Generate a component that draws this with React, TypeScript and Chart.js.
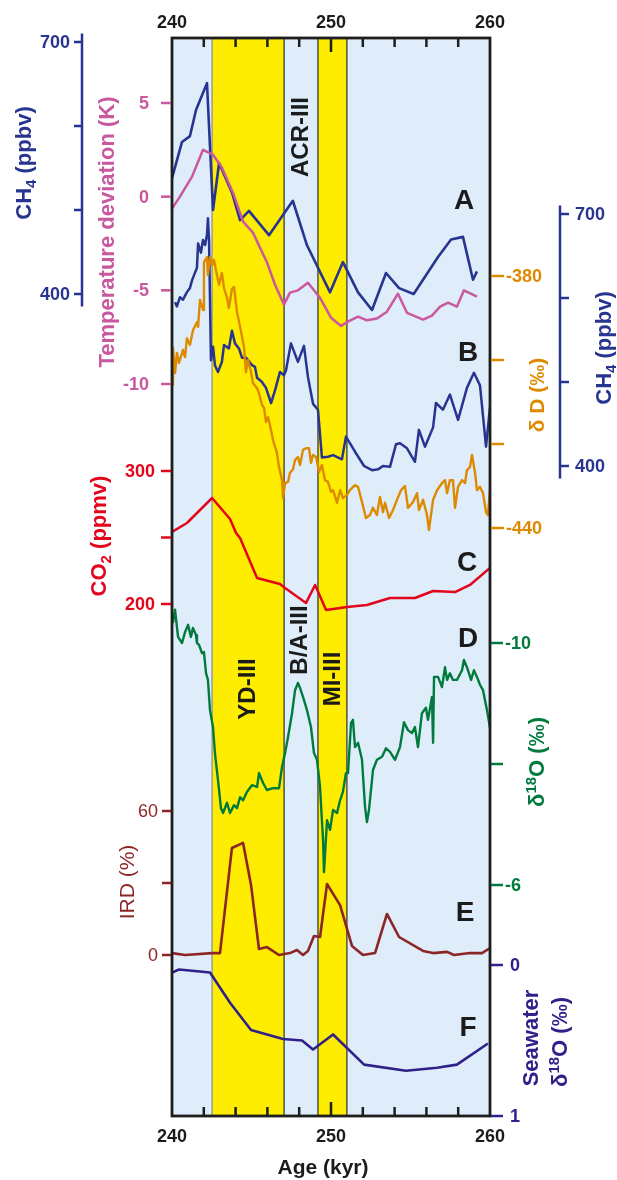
import React, { useEffect, useRef } from "react";
import { Chart, registerables } from "chart.js";

Chart.register(...registerables);

// ---------------- DATA ----------------
// A: CH4 (left axis, ppbv)
const ch4AAge = [240.0, 240.63, 241.13, 241.51, 242.2, 242.58, 242.96, 243.77, 244.28, 244.84, 246.1, 247.6, 248.49, 249.94, 250.75, 251.7, 252.58, 253.46, 254.28, 255.2, 256.73, 257.55, 258.3, 258.93, 259.18];
const ch4APpbv = [538, 581, 588, 619, 651, 500, 556, 521, 488, 499, 470, 511, 458, 402, 438, 402, 381, 425, 407, 400, 444, 465, 468, 417, 427];

// A: temperature deviation (K)
const tempAge = [240.0, 240.5, 241.26, 241.95, 242.58, 243.14, 243.84, 244.47, 245.09, 245.97, 246.48, 247.04, 247.42, 247.92, 248.55, 249.31, 250.0, 250.63, 251.07, 251.7, 252.26, 252.89, 253.52, 254.21, 254.78, 255.79, 256.35, 256.86, 257.36, 257.92, 258.36, 259.18];
const tempK = [-0.64, 0, 1.07, 2.5, 2.24, 1.55, 0.2, -1.33, -1.92, -3.5, -4.7, -5.76, -5.12, -5.0, -4.6, -5.4, -6.46, -6.9, -6.67, -6.4, -6.6, -6.5, -6.14, -5.18, -6.2, -6.56, -6.35, -5.87, -5.66, -5.87, -5.0, -5.34];

// B: CH4 (right axis, ppbv)
const ch4BAge = [240.19, 240.31, 240.5, 240.69, 240.94, 241.13, 241.26, 241.38, 241.57, 241.64, 241.82, 241.95, 242.08, 242.2, 242.26, 242.33, 242.45, 242.58, 242.7, 242.89, 243.14, 243.27, 243.58, 243.77, 243.96, 244.21, 244.4, 244.65, 244.78, 245.03, 245.22, 245.35, 245.66, 245.91, 246.23, 246.48, 246.79, 247.04, 247.17, 247.48, 247.92, 248.3, 248.55, 248.87, 249.18, 249.43, 249.81, 250.13, 250.69, 250.94, 251.51, 252.08, 252.58, 252.96, 253.27, 253.71, 254.09, 254.34, 254.78, 255.28, 255.53, 255.91, 256.42, 256.6, 257.04, 257.48, 257.99, 258.55, 258.99, 259.37, 259.75, 260.0];
const ch4BPpbv = [595, 590, 601, 598, 607, 612, 621, 627, 636, 665, 654, 669, 663, 675, 695, 669, 526, 542, 520, 512, 524, 544, 540, 561, 546, 540, 529, 529, 526, 520, 518, 505, 500, 493, 475, 490, 512, 508, 514, 546, 524, 543, 506, 474, 467, 410, 411, 413, 408, 435, 417, 400, 395, 396, 400, 399, 426, 427, 421, 405, 443, 423, 446, 475, 467, 485, 455, 493, 511, 496, 423, 470];

// B: deltaD (per mil)
const dDAge = [240.0, 240.06, 240.19, 240.31, 240.44, 240.69, 240.82, 240.94, 241.13, 241.32, 241.57, 241.64, 241.76, 241.95, 242.01, 242.2, 242.26, 242.39, 242.52, 242.64, 242.83, 242.96, 243.14, 243.27, 243.46, 243.58, 243.77, 243.9, 244.09, 244.28, 244.53, 244.65, 244.78, 244.97, 245.09, 245.35, 245.47, 245.66, 245.79, 245.91, 246.04, 246.23, 246.35, 246.6, 246.73, 246.92, 246.98, 247.11, 247.3, 247.42, 247.61, 247.74, 247.92, 248.05, 248.24, 248.43, 248.62, 248.74, 248.87, 249.06, 249.25, 249.43, 249.62, 249.81, 250.0, 250.13, 250.38, 250.57, 250.75, 251.01, 251.19, 251.51, 251.7, 251.95, 252.2, 252.45, 252.64, 252.89, 253.08, 253.27, 253.4, 253.65, 253.9, 254.15, 254.4, 254.65, 254.84, 255.16, 255.41, 255.53, 255.79, 256.04, 256.16, 256.42, 256.67, 256.98, 257.17, 257.3, 257.48, 257.67, 257.8, 257.99, 258.24, 258.43, 258.55, 258.74, 258.87, 259.06, 259.18, 259.37, 259.56, 259.75, 259.87, 260.0];
const dDPermil = [-405.9, -397.1, -403.1, -398.3, -400.7, -397.6, -399.3, -394.8, -396.4, -392.9, -391.0, -392.1, -385.7, -388.1, -376.7, -375.5, -379.8, -375.5, -377.4, -376.2, -379.8, -382.1, -379.3, -382.9, -385.2, -387.6, -383.1, -382.6, -388.6, -392.1, -396.9, -402.9, -400.0, -402.9, -405.5, -406.7, -407.9, -410.7, -411.4, -414.8, -413.6, -416.7, -419.0, -422.1, -425.5, -428.6, -432.9, -429.3, -429.0, -426.9, -426.0, -423.8, -423.1, -425.0, -421.4, -421.0, -421.0, -424.5, -422.6, -423.1, -426.7, -425.0, -428.6, -429.0, -431.4, -431.0, -434.0, -431.0, -432.9, -432.1, -431.0, -429.8, -430.2, -433.8, -437.6, -436.9, -435.2, -436.9, -432.6, -436.2, -434.0, -437.6, -435.7, -433.3, -431.0, -430.0, -435.2, -433.8, -431.7, -435.7, -433.3, -436.9, -440.5, -433.3, -431.0, -429.3, -428.6, -431.7, -428.6, -428.6, -435.2, -430.2, -428.6, -429.3, -426.2, -425.5, -422.6, -426.9, -431.0, -430.2, -431.7, -436.2, -436.9, -431.0];

// C: CO2 (ppmv)
const co2Age = [240.0, 240.94, 242.52, 243.65, 244.03, 244.28, 245.35, 246.79, 247.11, 248.43, 249.0, 249.69, 251.01, 252.26, 253.71, 255.28, 256.42, 257.8, 258.74, 260.0];
const co2Ppmv = [254.1, 260.9, 279.7, 263.9, 253.4, 249.6, 219.5, 215, 212, 200.8, 214.3, 195.5, 197.7, 199.2, 204.5, 204.5, 209.8, 209, 214.3, 227.1];

// D: speleothem d18O (per mil)
const d18OAge = [240.06, 240.19, 240.38, 240.63, 240.82, 241.01, 241.19, 241.32, 241.51, 241.57, 241.7, 241.89, 242.01, 242.14, 242.26, 242.39, 242.58, 242.7, 242.89, 243.08, 243.21, 243.46, 243.65, 243.9, 244.09, 244.28, 244.47, 244.72, 245.03, 245.35, 245.47, 245.72, 245.97, 246.35, 246.73, 246.92, 247.11, 247.3, 247.55, 247.74, 247.92, 248.05, 248.24, 248.49, 248.74, 248.93, 249.12, 249.31, 249.5, 249.56, 249.75, 249.94, 250.13, 250.38, 250.57, 250.75, 250.94, 251.07, 251.26, 251.38, 251.51, 251.7, 251.95, 252.14, 252.26, 252.39, 252.64, 252.89, 253.21, 253.46, 253.71, 254.03, 254.34, 254.59, 254.84, 255.09, 255.28, 255.47, 255.72, 255.97, 256.1, 256.35, 256.42, 256.48, 256.73, 256.98, 257.17, 257.3, 257.48, 257.67, 257.92, 258.24, 258.36, 258.55, 258.81, 258.99, 259.18, 259.37, 259.56, 259.81, 260.0];
const d18OPermil = [-10.33, -10.55, -10.1, -10.0, -10.18, -10.3, -10.1, -10.25, -10.13, -10.0, -9.97, -9.83, -9.85, -9.5, -9.39, -8.89, -8.61, -8.18, -7.74, -7.27, -7.19, -7.36, -7.19, -7.32, -7.27, -7.45, -7.4, -7.54, -7.65, -7.62, -7.85, -7.69, -7.57, -7.6, -7.6, -7.95, -8.18, -8.45, -8.84, -9.22, -9.34, -9.26, -9.11, -8.89, -8.61, -8.18, -8.07, -7.62, -6.74, -6.21, -7.07, -6.91, -7.24, -7.19, -7.4, -7.54, -7.85, -7.85, -8.68, -8.73, -8.28, -8.35, -8.07, -7.29, -7.04, -7.24, -7.9, -8.07, -8.12, -8.26, -8.2, -8.07, -8.28, -8.69, -8.56, -8.51, -8.61, -8.28, -8.84, -8.93, -8.73, -9.11, -8.35, -9.44, -9.44, -9.27, -9.6, -9.39, -9.5, -9.39, -9.39, -9.55, -9.72, -9.6, -9.39, -9.55, -9.44, -9.31, -9.22, -8.89, -8.6];

// E: IRD (%)
const irdAge = [240.0, 240.82, 242.52, 243.02, 243.77, 244.47, 244.97, 245.47, 245.97, 246.73, 247.42, 247.86, 248.24, 248.55, 248.93, 249.31, 249.75, 250.57, 251.32, 252.01, 252.77, 253.52, 254.28, 255.79, 256.42, 257.3, 257.74, 258.74, 259.5, 260.0];
const irdPct = [0.8, 0, 0.8, 0.8, 44.6, 46.7, 29.2, 2.5, 3.3, 0, 0.8, 2.1, 0, 1.7, 7.9, 7.5, 29.6, 20.8, 3.8, 0, 0.8, 17.1, 7.5, 1.7, 0.8, 1.3, 0, 0.8, 0.8, 2.9];

// F: seawater d18O (per mil)
const swAge = [240.0, 240.44, 242.39, 243.65, 244.97, 246.98, 248.18, 248.87, 250.13, 252.08, 254.72, 256.67, 257.92, 259.87];
const swPermil = [0.05, 0.03, 0.05, 0.25, 0.43, 0.49, 0.5, 0.56, 0.46, 0.66, 0.7, 0.68, 0.66, 0.52];

// Event bands and x ticks
const bandStart = [242.52, 249.18];
const bandEnd = [247.05, 251.0];
const xMajorTicks = [240, 250, 260];
const xMinorTicks = [242, 244, 246, 248, 252, 254, 256, 258];

// ---------------- STYLE ----------------
const FONT = '"Liberation Sans", Arial, Helvetica, sans-serif';
const C_BG = "#dfecfa";
const C_YEL = "#ffed00";
const C_CH4 = "#283590";
const C_TEMP = "#c9589f";
const C_DD = "#de8a00";
const C_CO2 = "#e3051b";
const C_D18O = "#007b3d";
const C_IRD = "#8c2626";
const C_SW = "#30208a";
const C_TXT = "#1b1b1b";

const PLOT_TOP = 38;
const PLOT_BOTTOM = 1116;

function axisRange(v1: number, p1: number, v2: number, p2: number) {
  const k = (v2 - v1) / (p2 - p1);
  const vt = v1 + (PLOT_TOP - p1) * k;
  const vb = v1 + (PLOT_BOTTOM - p1) * k;
  return vt > vb
    ? { min: vb, max: vt, reverse: false }
    : { min: vt, max: vb, reverse: true };
}

function pts(ages: number[], vals: number[]) {
  return ages.map((a, i) => ({ x: a, y: vals[i] }));
}

type Seg = { t: string; sub?: boolean; sup?: boolean };

function drawRich(
  ctx: CanvasRenderingContext2D,
  segs: Seg[],
  cx: number,
  cy: number,
  size: number,
  weight: string,
  color: string,
  rotate: boolean
) {
  ctx.save();
  ctx.translate(cx, cy);
  if (rotate) ctx.rotate(-Math.PI / 2);
  ctx.fillStyle = color;
  ctx.textBaseline = "middle";
  ctx.textAlign = "left";
  const fontFor = (s: Seg) =>
    `${weight} ${s.sub || s.sup ? Math.round(size * 0.68) : size}px ${FONT}`;
  let total = 0;
  for (const s of segs) {
    ctx.font = fontFor(s);
    total += ctx.measureText(s.t).width;
  }
  let x = -total / 2;
  for (const s of segs) {
    ctx.font = fontFor(s);
    const dy = s.sub ? size * 0.3 : s.sup ? -size * 0.3 : 0;
    ctx.fillText(s.t, x, dy);
    x += ctx.measureText(s.t).width;
  }
  ctx.restore();
}

function yTicks(ctx: CanvasRenderingContext2D, scale: any, values: number[], x1: number, x2: number, color: string) {
  ctx.save();
  ctx.strokeStyle = color;
  ctx.lineWidth = 2.5;
  for (const v of values) {
    const y = scale.getPixelForValue(v);
    ctx.beginPath();
    ctx.moveTo(x1, y);
    ctx.lineTo(x2, y);
    ctx.stroke();
  }
  ctx.restore();
}

function yLabels(
  ctx: CanvasRenderingContext2D,
  scale: any,
  values: number[],
  x: number,
  align: CanvasTextAlign,
  color: string,
  weight = "bold"
) {
  ctx.save();
  ctx.fillStyle = color;
  ctx.font = `${weight} 18px ${FONT}`;
  ctx.textAlign = align;
  ctx.textBaseline = "middle";
  for (const v of values) {
    ctx.fillText(String(v), x, scale.getPixelForValue(v) + 1);
  }
  ctx.restore();
}

function yLine(ctx: CanvasRenderingContext2D, scale: any, x: number, v1: number, v2: number, color: string) {
  ctx.save();
  ctx.strokeStyle = color;
  ctx.lineWidth = 2.5;
  ctx.beginPath();
  ctx.moveTo(x, scale.getPixelForValue(v1));
  ctx.lineTo(x, scale.getPixelForValue(v2));
  ctx.stroke();
  ctx.restore();
}

function rotText(ctx: CanvasRenderingContext2D, text: string, x: number, y: number, size: number, color: string) {
  ctx.save();
  ctx.translate(x, y);
  ctx.rotate(-Math.PI / 2);
  ctx.fillStyle = color;
  ctx.font = `bold ${size}px ${FONT}`;
  ctx.textAlign = "center";
  ctx.textBaseline = "middle";
  ctx.fillText(text, 0, 0);
  ctx.restore();
}

const decoPlugin = {
  id: "deco",
  beforeDatasetsDraw(chart: any) {
    const { ctx, chartArea: a, scales } = chart;
    const x = scales.x;
    ctx.save();
    ctx.fillStyle = C_BG;
    ctx.fillRect(a.left, a.top, a.right - a.left, a.bottom - a.top);
    ctx.fillStyle = C_YEL;
    bandStart.forEach((s, i) => {
      const p1 = x.getPixelForValue(s);
      const p2 = x.getPixelForValue(bandEnd[i]);
      ctx.fillRect(p1, a.top, p2 - p1, a.bottom - a.top);
    });
    ctx.lineWidth = 1.3;
    bandStart.forEach((s, i) => {
      [s, bandEnd[i]].forEach((v, j) => {
        ctx.strokeStyle = i === 0 && j === 0 ? "#8d9196" : "#3a3a3a";
        const p = x.getPixelForValue(v);
        ctx.beginPath();
        ctx.moveTo(p, a.top);
        ctx.lineTo(p, a.bottom);
        ctx.stroke();
      });
    });
    ctx.restore();
  },
  afterDatasetsDraw(chart: any) {
    const { ctx, chartArea: a, scales } = chart;
    const x = scales.x;
    ctx.save();
    ctx.strokeStyle = "#1e1e1e";
    ctx.lineWidth = 2.8;
    ctx.strokeRect(a.left, a.top, a.right - a.left, a.bottom - a.top);
    ctx.lineWidth = 2.5;
    const tick = (v: number, len: number) => {
      const p = x.getPixelForValue(v);
      ctx.beginPath();
      ctx.moveTo(p, a.top);
      ctx.lineTo(p, a.top + len);
      ctx.moveTo(p, a.bottom);
      ctx.lineTo(p, a.bottom - len);
      ctx.stroke();
    };
    xMinorTicks.forEach((v) => tick(v, 9));
    tick(250, 14);
    ctx.fillStyle = C_TXT;
    ctx.font = `bold 18px ${FONT}`;
    ctx.textAlign = "center";
    ctx.textBaseline = "middle";
    xMajorTicks.forEach((v) => {
      const p = x.getPixelForValue(v);
      ctx.fillText(String(v), p, 23);
      ctx.fillText(String(v), p, 1137);
    });
    ctx.font = `bold 21px ${FONT}`;
    ctx.fillText("Age (kyr)", 323, 1168);
    ctx.restore();

    // ---- left axes ----
    const sA = scales.yCh4A;
    yLine(ctx, sA, 82, 710, 385, C_CH4);
    yTicks(ctx, sA, [700, 600, 500, 400], 74, 82, C_CH4);
    yLabels(ctx, sA, [700, 400], 70, "right", C_CH4);
    drawRich(ctx, [{ t: "CH" }, { t: "4", sub: true }, { t: " (ppbv)" }], 25, 163, 22, "bold", C_CH4, true);

    const sT = scales.yTemp;
    yTicks(ctx, sT, [5, 0, -5, -10], 161, 171, C_TEMP);
    yLabels(ctx, sT, [5, 0, -5, -10], 149, "right", C_TEMP);
    drawRich(ctx, [{ t: "Temperature deviation (K)" }], 108, 232, 22, "bold", C_TEMP, true);

    const sC = scales.yCo2;
    yTicks(ctx, sC, [300, 250, 200], 161, 171, C_CO2);
    yLabels(ctx, sC, [300, 200], 155, "right", C_CO2);
    drawRich(ctx, [{ t: "CO" }, { t: "2", sub: true }, { t: " (ppmv)" }], 100, 536, 22, "bold", C_CO2, true);

    const sI = scales.yIrd;
    yTicks(ctx, sI, [60, 30, 0], 162, 171, C_IRD);
    yLabels(ctx, sI, [60, 0], 158, "right", C_IRD, "normal");
    drawRich(ctx, [{ t: "IRD (%)" }], 128, 882, 21, "normal", C_IRD, true);

    // ---- right axes ----
    const sD = scales.yDd;
    yTicks(ctx, sD, [-380, -400, -420, -440], 491, 504, C_DD);
    yLabels(ctx, sD, [-380, -440], 506, "left", C_DD);
    drawRich(ctx, [{ t: "\u03b4 D (\u2030)" }], 538, 395, 21, "bold", C_DD, true);

    const sB = scales.yCh4B;
    yLine(ctx, sB, 560, 710, 385, C_CH4);
    yTicks(ctx, sB, [700, 600, 500, 400], 560, 569, C_CH4);
    yLabels(ctx, sB, [700, 400], 575, "left", C_CH4);
    drawRich(ctx, [{ t: "CH" }, { t: "4", sub: true }, { t: " (ppbv)" }], 605, 348, 22, "bold", C_CH4, true);

    const sO = scales.yD18O;
    yTicks(ctx, sO, [-10, -8, -6], 491, 503, C_D18O);
    yLabels(ctx, sO, [-10, -6], 505, "left", C_D18O);
    drawRich(ctx, [{ t: "\u03b4" }, { t: "18", sup: true }, { t: "O (\u2030)" }], 538, 762, 22, "bold", C_D18O, true);

    const sS = scales.ySw;
    yTicks(ctx, sS, [0, 1], 491, 503, C_SW);
    yLabels(ctx, sS, [0, 1], 510, "left", C_SW);
    drawRich(ctx, [{ t: "Seawater" }], 532, 1038, 22, "bold", C_SW, true);
    drawRich(ctx, [{ t: "\u03b4" }, { t: "18", sup: true }, { t: "O (\u2030)" }], 561, 1042, 22, "bold", C_SW, true);

    // ---- event labels ----
    rotText(ctx, "ACR-III", 301, 137, 24, C_TXT);
    rotText(ctx, "YD-III", 248, 689, 24, C_TXT);
    rotText(ctx, "B/A-III", 300, 640, 24, C_TXT);
    rotText(ctx, "MI-III", 333, 679, 24, C_TXT);

    // ---- panel letters ----
    ctx.save();
    ctx.fillStyle = C_TXT;
    ctx.font = `bold 28px ${FONT}`;
    ctx.textAlign = "center";
    ctx.textBaseline = "middle";
    const letters: [string, number, number][] = [
      ["A", 464, 201],
      ["B", 468, 353],
      ["C", 467, 563],
      ["D", 468, 639],
      ["E", 465, 913],
      ["F", 468, 1028],
    ];
    letters.forEach(([t, lx, ly]) => ctx.fillText(t, lx, ly));
    ctx.restore();
  },
};

function ds(data: { x: number; y: number }[], axis: string, color: string, width = 2.5) {
  return {
    data,
    yAxisID: axis,
    borderColor: color,
    backgroundColor: color,
    borderWidth: width,
    pointRadius: 0,
    tension: 0,
    fill: false,
    borderJoinStyle: "round",
  };
}

function hidden(r: { min: number; max: number; reverse: boolean }) {
  return { type: "linear", display: false, min: r.min, max: r.max, reverse: r.reverse };
}

export default function App() {
  const ref = useRef<HTMLCanvasElement>(null);
  useEffect(() => {
    if (!ref.current) return;
    const chart = new Chart(ref.current, {
      type: "line",
      data: {
        datasets: [
          ds(pts(swAge, swPermil), "ySw", C_SW, 2.6),
          ds(pts(irdAge, irdPct), "yIrd", C_IRD, 2.6),
          ds(pts(d18OAge, d18OPermil), "yD18O", C_D18O, 2.4),
          ds(pts(co2Age, co2Ppmv), "yCo2", C_CO2, 2.5),
          ds(pts(dDAge, dDPermil), "yDd", C_DD, 2.4),
          ds(pts(ch4BAge, ch4BPpbv), "yCh4B", C_CH4, 2.5),
          ds(pts(tempAge, tempK), "yTemp", C_TEMP, 2.5),
          ds(pts(ch4AAge, ch4APpbv), "yCh4A", C_CH4, 2.6),
        ] as any,
      },
      options: {
        responsive: false,
        animation: false,
        devicePixelRatio: 1,
        layout: { padding: { left: 172, top: PLOT_TOP, right: 617 - 490, bottom: 1180 - PLOT_BOTTOM } },
        plugins: { legend: { display: false }, tooltip: { enabled: false } },
        events: [],
        scales: {
          x: { type: "linear", display: false, min: 240, max: 260 },
          yCh4A: hidden(axisRange(700, 42, 400, 294)),
          yTemp: hidden(axisRange(5, 103, -10, 384)),
          yCh4B: hidden(axisRange(700, 214, 400, 466)),
          yDd: hidden(axisRange(-380, 276, -440, 528)),
          yCo2: hidden(axisRange(300, 471, 200, 604)),
          yD18O: hidden(axisRange(-10, 643, -6, 885)),
          yIrd: hidden(axisRange(60, 811, 0, 955)),
          ySw: hidden(axisRange(0, 965, 1, 1116)),
        } as any,
      },
      plugins: [decoPlugin],
    });
    return () => chart.destroy();
  }, []);
  return (
    <div style={{ position: "absolute", left: 0, top: 0, width: 617, height: 1180, background: "#fff" }}>
      <canvas ref={ref} width={617} height={1180} style={{ display: "block" }} />
    </div>
  );
}
